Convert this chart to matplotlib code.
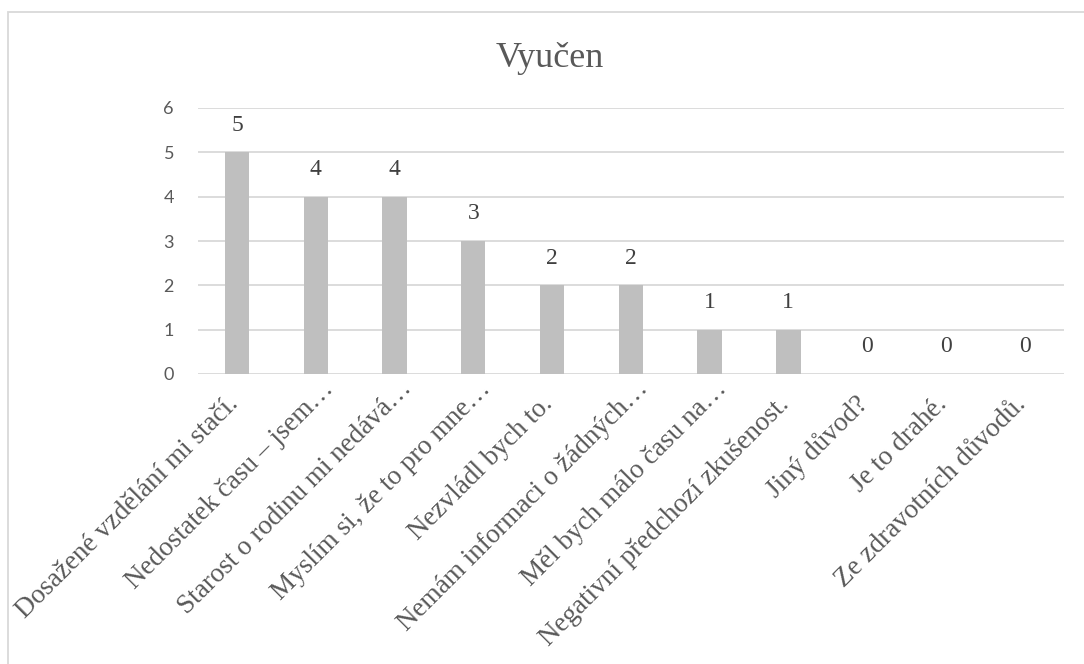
import matplotlib
matplotlib.use("Agg")
import matplotlib.pyplot as plt
from matplotlib.patches import Rectangle

# Survey answers for the "Vyučen" group
categories = [
    "Dosažené vzdělání mi stačí.",
    "Nedostatek času – jsem…",
    "Starost o rodinu mi nedává…",
    "Myslím si, že to pro mne…",
    "Nezvládl bych to.",
    "Nemám informaci o žádných…",
    "Měl bych málo času na…",
    "Negativní předchozí zkušenost.",
    "Jiný důvod?",
    "Je to drahé.",
    "Ze zdravotních důvodů.",
]
counts = [5, 4, 4, 3, 2, 2, 1, 1, 0, 0, 0]
y_ticks = [0, 1, 2, 3, 4, 5, 6]
title = "Vyučen"

SERIF = ["Liberation Serif", "DejaVu Serif"]
SANS = ["Lato", "DejaVu Sans"]
GRID = "#d9d9d9"
BAR = "#bfbfbf"
TEXT = "#595959"
LABEL = "#404040"

W, H = 1084, 664
fig = plt.figure(figsize=(W / 100, H / 100), dpi=100)
fig.patch.set_facecolor("white")

# chart frame (runs off the right and bottom edges)
fig.patches.append(Rectangle((8 / W, -0.2), 1.2, 1 - 12 / H + 0.2,
                             transform=fig.transFigure, fill=False,
                             edgecolor=GRID, linewidth=1.3))

left, right = 197.6 / W, 1064 / W
bottom, top = (H - 374) / H, (H - 108) / H
ax = fig.add_axes([left, bottom, right - left, top - bottom])

x = list(range(len(categories)))
ax.bar(x, counts, width=0.31, color=BAR, zorder=2)

ax.set_xlim(-0.5, len(categories) - 0.5)
ax.set_ylim(0, 6)
ax.set_yticks(y_ticks)
ax.set_yticklabels([str(v) for v in y_ticks], fontfamily=SANS,
                   fontsize=13, color=TEXT)
ax.tick_params(axis="y", length=0, pad=17)
ax.tick_params(axis="x", length=0, labelbottom=False)
ax.yaxis.grid(True, color=GRID, linewidth=1.3, zorder=0)
ax.set_axisbelow(True)
for s in ax.spines.values():
    s.set_visible(False)

# value labels above the bars
for xi, v in zip(x, counts):
    ax.annotate(str(v), xy=(xi, v), xytext=(0, 19.5), textcoords="offset points",
                ha="center", va="center", fontfamily=SERIF, fontsize=17,
                color=LABEL)

# rotated category labels; shortened ones sit a little further along the slant
for xi, lab in zip(x, categories):
    offset = (13.3, -11.2) if lab.endswith("…") else (1.4, -22.3)
    ax.annotate(lab, xy=(xi, 0), xytext=offset, textcoords="offset points",
                ha="right", va="baseline", rotation=45,
                rotation_mode="anchor", fontfamily=SERIF, fontsize=19.5,
                color=TEXT)

fig.text(550 / W, (H - 67) / H, title, ha="center", va="baseline",
         fontfamily=SERIF, fontsize=26, color=TEXT)

fig.savefig("out.png", dpi=100, facecolor="white")
